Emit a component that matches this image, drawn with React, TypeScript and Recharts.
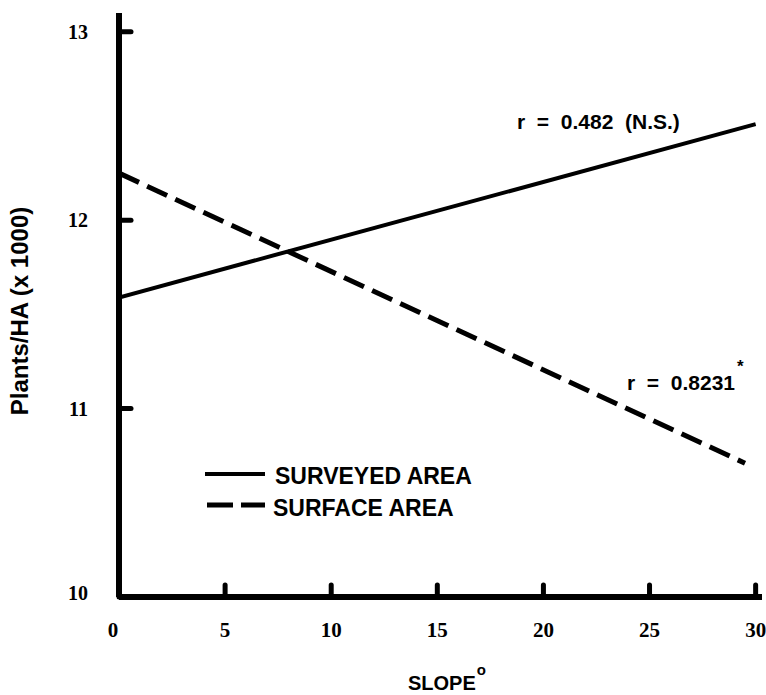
import React from "react";
import { LineChart, Line, XAxis, YAxis, Legend } from "recharts";

// values (slope in degrees, plants/ha in thousands)
const slopeTicks = [0, 5, 10, 15, 20, 25, 30];
const plantTicks = [10, 11, 12, 13];
const surveyedSlope = [0, 30];
const surveyedPlants = [11.59, 12.51];
const surfaceSlope = [0, 29.5];
const surfacePlants = [12.25, 10.71];
const seriesNames = ["SURVEYED AREA", "SURFACE AREA"];

const surveyedData = surveyedSlope.map((s, i) => ({ slope: s, plants: surveyedPlants[i] }));
const surfaceData = surfaceSlope.map((s, i) => ({ slope: s, plants: surfacePlants[i] }));

const serif = '"Liberation Serif", "DejaVu Serif", serif';
const sans = '"Liberation Sans", Arial, sans-serif';

const YTick = (props: any) => {
  const { x, y, payload } = props;
  return (
    <g>
      <line x1={x + 31} x2={x + 43} y1={y} y2={y} stroke="#000" strokeWidth={5} strokeLinecap="round" />
      <text
        x={x}
        y={payload.value === 10 ? y - 4 : y}
        dy="0.35em"
        textAnchor="end"
        fontFamily={serif}
        fontWeight="bold"
        fontSize={20}
        fill="#000"
      >
        {payload.value}
      </text>
    </g>
  );
};

const XTick = (props: any) => {
  const { x, y, payload } = props;
  return (
    <g>
      {payload.value !== 0 && (
        <line x1={x} x2={x} y1={y - 40} y2={y - 52} stroke="#000" strokeWidth={5} strokeLinecap="round" />
      )}
      <text x={payload.value === 0 ? x - 6 : x} y={y} textAnchor="middle" fontFamily={serif} fontWeight="bold" fontSize={21} fill="#000">
        {payload.value}
      </text>
    </g>
  );
};

const LegendKey = () => (
  <svg width={300} height={60} style={{ overflow: "visible" }}>
    <line x1={5} x2={65} y1={14} y2={14} stroke="#000" strokeWidth={4} />
    <text x={75} y={24} fontFamily={sans} fontWeight="bold" fontSize={23} fill="#000">
      {seriesNames[0]}
    </text>
    <line x1={7} x2={65} y1={45} y2={45} stroke="#000" strokeWidth={5} strokeDasharray="26 8" />
    <text x={73} y={56} fontFamily={sans} fontWeight="bold" fontSize={23} fill="#000">
      {seriesNames[1]}
    </text>
  </svg>
);

export default function App() {
  return (
    <div style={{ position: "absolute", left: 0, top: 0, width: 766, height: 695, background: "#fff" }}>
      <LineChart width={766} height={695} margin={{ top: 13, right: 4, bottom: 38, left: 59 }}>
        <XAxis
          type="number"
          dataKey="slope"
          domain={[0, 30.3]}
          ticks={slopeTicks}
          allowDataOverflow
          height={60}
          tickSize={0}
          tickMargin={40}
          tick={XTick}
          axisLine={{ stroke: "#000", strokeWidth: 6 }}
        />
        <YAxis
          type="number"
          dataKey="plants"
          domain={[10, 13.1]}
          ticks={plantTicks}
          allowDataOverflow
          width={60}
          tickSize={0}
          tickMargin={31}
          tick={YTick}
          axisLine={{ stroke: "#000", strokeWidth: 6 }}
        />
        <Legend
          layout="vertical"
          align="center"
          verticalAlign="middle"
          content={LegendKey}
          wrapperStyle={{ position: "absolute", left: 200, top: 460, width: 300, height: 60 }}
        />
        <Line
          data={surveyedData}
          dataKey="plants"
          name={seriesNames[0]}
          type="linear"
          stroke="#000"
          strokeWidth={4}
          dot={false}
          isAnimationActive={false}
        />
        <Line
          data={surfaceData}
          dataKey="plants"
          name={seriesNames[1]}
          type="linear"
          stroke="#000"
          strokeWidth={5}
          strokeDasharray="22 9"
          dot={false}
          isAnimationActive={false}
        />
      </LineChart>
      <svg width={766} height={695} style={{ position: "absolute", left: 0, top: 0, pointerEvents: "none" }}>
        <text
          transform="translate(19,311) rotate(-90)"
          textAnchor="middle"
          dominantBaseline="central"
          fontFamily={sans}
          fontWeight="bold"
          fontSize={24}
          fill="#000"
        >
          Plants/HA (x 1000)
        </text>
        <text x={408} y={690} fontFamily={sans} fontWeight="bold" fontSize={20} fill="#000">
          SLOPE
          <tspan dx={1} dy={-15} fontSize={15}>o</tspan>
        </text>
        <text x={517} y={129} fontFamily={sans} fontWeight="bold" fontSize={21} fill="#000" style={{ whiteSpace: "pre" }}>
          {"r  =  0.482  (N.S.)"}
        </text>
        <text x={627} y={390} fontFamily={sans} fontWeight="bold" fontSize={21} fill="#000" style={{ whiteSpace: "pre" }}>
          {"r  =  0.8231"}
          <tspan dx={2} dy={-18} fontSize={17}>*</tspan>
        </text>
      </svg>
    </div>
  );
}
